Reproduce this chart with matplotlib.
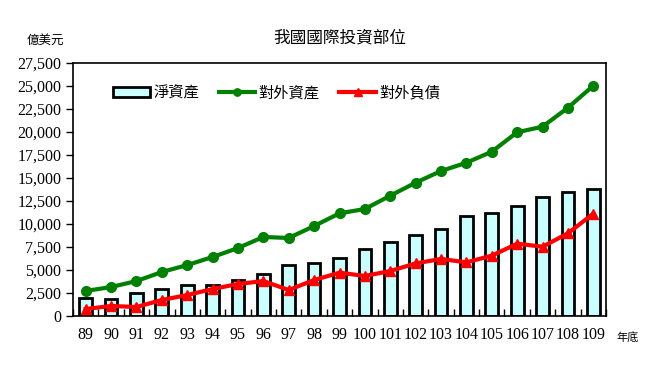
import numpy as np
import matplotlib.pyplot as plt
from matplotlib.ticker import FuncFormatter, MultipleLocator

plt.rcParams['font.family'] = ['Liberation Serif', 'Noto Sans CJK TC']

years = ['89', '90', '91', '92', '93', '94', '95', '96', '97', '98', '99',
         '100', '101', '102', '103', '104', '105', '106', '107', '108', '109']
net_assets = [1960, 1820, 2530, 2970, 3400, 3400, 3880, 4600, 5580, 5790, 6340,
              7250, 8010, 8770, 9420, 10840, 11230, 11990, 12900, 13510, 13770]
ext_assets = [2720, 3150, 3800, 4780, 5540, 6410, 7390, 8590, 8480, 9780, 11160,
              11630, 13080, 14490, 15760, 16660, 17860, 19970, 20580, 22640, 25030]
ext_liab = [760, 1090, 980, 1740, 2280, 2930, 3480, 3800, 2830, 3910, 4710,
            4350, 4890, 5720, 6200, 5830, 6560, 7860, 7530, 8990, 11120]

cjk = ['Noto Sans CJK TC']

fig = plt.figure(figsize=(6.67, 3.79), dpi=100)
ax = fig.add_axes([73/667, 1-316/379, (606-73)/667, (316-63)/379])

x = np.arange(len(years))
b = ax.bar(x, net_assets, width=0.5, color='#CCFFFF', edgecolor='black', linewidth=2, label='淨資產', zorder=2)
l1, = ax.plot(x, ext_assets, color='#008000', linewidth=3, marker='o', markersize=7, label='對外資產', zorder=3)
l2, = ax.plot(x, ext_liab, color='#FF0000', linewidth=3, marker='^', markersize=7, label='對外負債', zorder=3)

ax.set_xlim(-0.5, len(years) - 0.5)
ax.set_ylim(0, 27500)
ax.yaxis.set_major_locator(MultipleLocator(2500))
ax.yaxis.set_major_formatter(FuncFormatter(lambda v, p: f'{int(v):,}'))
ax.set_xticks(x)
ax.set_xticklabels(years)
ax.set_xticks(np.arange(-0.5, len(years)), minor=True)
ax.tick_params(axis='x', which='major', length=0, labelsize=11.5, pad=8)
ax.tick_params(axis='x', which='minor', direction='in', length=5, width=1)
ax.tick_params(axis='y', direction='out', length=5, width=1, labelsize=11.5)
for s in ax.spines.values():
    s.set_linewidth(1.2)

ax.legend([b, l1, l2], ['淨資產', '對外資產', '對外負債'],
          loc='upper left', bbox_to_anchor=(0.05, 0.97), ncol=3, frameon=False,
          prop={'family': cjk, 'size': 11}, handlelength=2.4, handleheight=0.6,
          columnspacing=1.3, handletextpad=0.2, markerscale=0.75)

fig.text(340/667, 1-38/379, '我國國際投資部位', ha='center', va='center', fontsize=12, family=cjk)
fig.text(45/667, 1-40/379, '億美元', ha='center', va='center', fontsize=9, family=cjk)
fig.text(628/667, 1-337/379, '年底', ha='center', va='center', fontsize=8, family=cjk)

fig.savefig('out.png', dpi=100)
